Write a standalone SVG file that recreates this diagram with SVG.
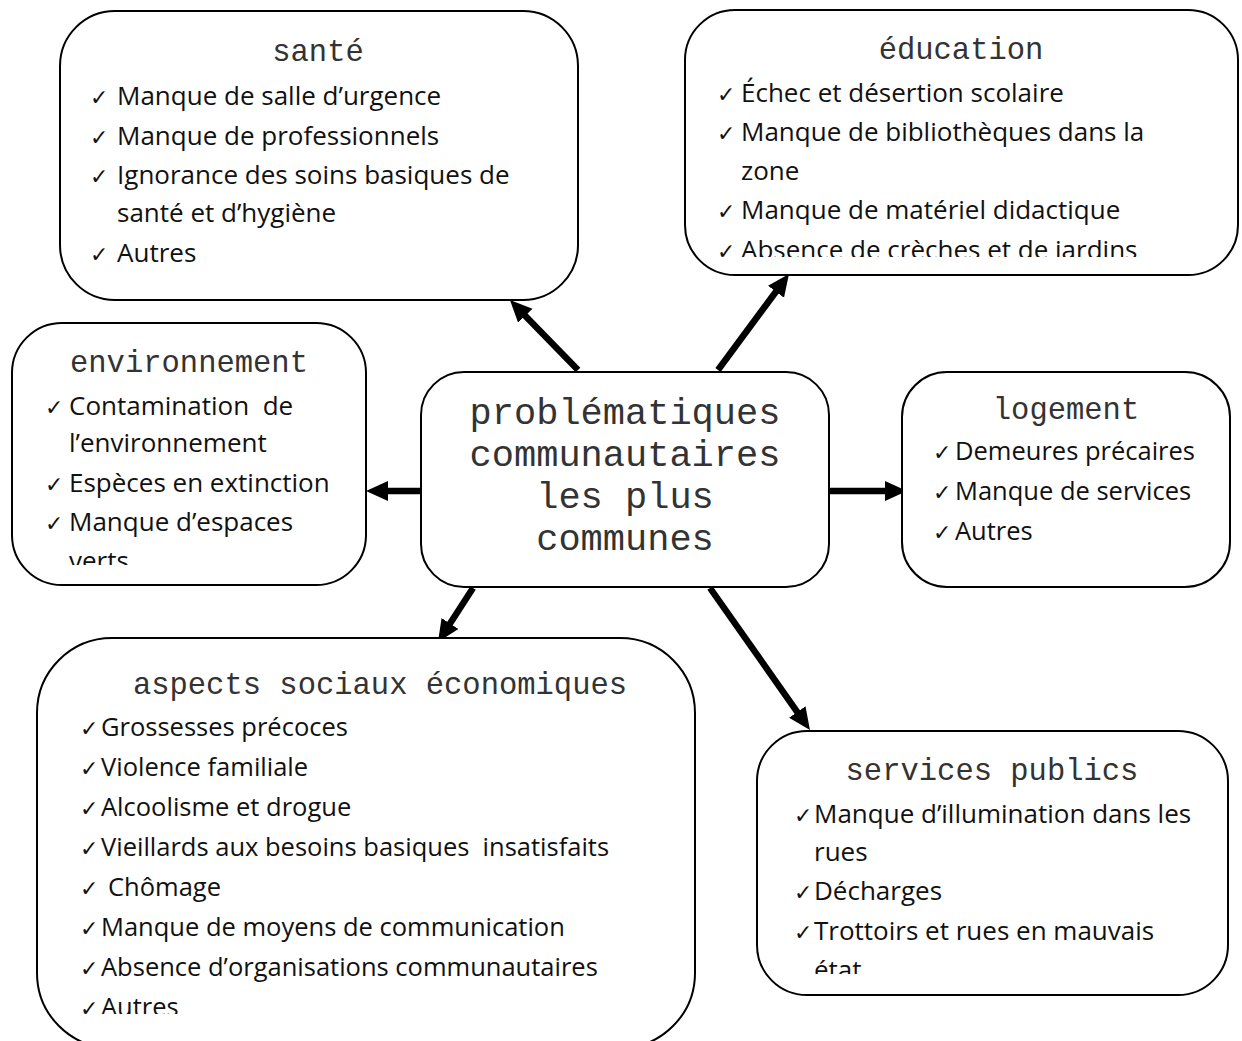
<svg xmlns="http://www.w3.org/2000/svg" width="1242" height="1041" viewBox="0 0 1242 1041">
<style>
.box{fill:#fff;stroke:#000;stroke-width:2}
.ttl{font-family:"Liberation Mono","Courier New",monospace;font-size:30.5px;fill:#333;text-anchor:middle}
.ctr{font-family:"Liberation Mono","Courier New",monospace;font-size:37px;fill:#333;text-anchor:middle}
.it{font-family:"Open Sans","Noto Sans",sans-serif;font-size:26px;fill:#111;white-space:pre}
.sm{font-size:25.5px}
.ck{font-family:"DejaVu Sans",sans-serif;font-size:22px;fill:#111}
.con{stroke:#000;stroke-width:6.5;fill:none;marker-end:url(#ah)}
</style>
<defs>
<marker id="ah" markerUnits="userSpaceOnUse" markerWidth="24" markerHeight="22" refX="4" refY="10" orient="auto" viewBox="0 0 24 22">
<path d="M0,0 L22,10 L0,20 z" fill="#000"/>
</marker>
<clipPath id="cEdu"><rect x="685" y="10" width="553" height="247"/></clipPath>
<clipPath id="cEnv"><rect x="12" y="323" width="354" height="242"/></clipPath>
<clipPath id="cAsp"><rect x="37" y="638" width="658" height="376"/></clipPath>
<clipPath id="cSer"><rect x="757" y="731" width="471" height="243"/></clipPath>
</defs>

<g id="connectors">
<line class="con" x1="578" y1="370" x2="522.5" y2="312.9"/>
<line class="con" x1="718" y1="370" x2="778.3" y2="288.5"/>
<line class="con" x1="421" y1="491" x2="384" y2="491"/>
<line class="con" x1="829" y1="491" x2="889" y2="491"/>
<line class="con" x1="473" y1="588" x2="447.8" y2="626.9"/>
<line class="con" x1="710" y1="588" x2="799.6" y2="715.3"/>
</g>

<g id="sante">
<rect class="box" x="60" y="11" width="518" height="289" rx="55"/>
<text class="ttl" x="318" y="61">santé</text>
<text class="ck" x="90" y="105">✓</text><text class="it" x="117" y="105">Manque de salle d’urgence</text>
<text class="ck" x="90" y="145">✓</text><text class="it" x="117" y="145">Manque de professionnels</text>
<text class="ck" x="90" y="184">✓</text><text class="it" x="117" y="184">Ignorance des soins basiques de</text>
<text class="it" x="117" y="222">santé et d’hygiène</text>
<text class="ck" x="90" y="262">✓</text><text class="it" x="117" y="262">Autres</text>
</g>

<g id="education">
<rect class="box" x="685" y="10" width="553" height="265" rx="50"/>
<text class="ttl" x="961" y="59">éducation</text>
<g clip-path="url(#cEdu)">
<text class="ck" x="717" y="102">✓</text><text class="it" x="741" y="102">Échec et désertion scolaire</text>
<text class="ck" x="717" y="141">✓</text><text class="it" x="741" y="141">Manque de bibliothèques dans la</text>
<text class="it" x="741" y="180">zone</text>
<text class="ck" x="717" y="219">✓</text><text class="it" x="741" y="219">Manque de matériel didactique</text>
<text class="ck" x="717" y="259">✓</text><text class="it" x="741" y="259">Absence de crèches et de jardins</text>
</g>
</g>

<g id="environnement">
<rect class="box" x="12" y="323" width="354" height="262" rx="50"/>
<text class="ttl" x="189" y="372">environnement</text>
<g clip-path="url(#cEnv)">
<text class="ck" x="45" y="415">✓</text><text class="it" x="69" y="415">Contamination  de</text>
<text class="it" x="69" y="452">l’environnement</text>
<text class="ck" x="45" y="492">✓</text><text class="it" x="69" y="492">Espèces en extinction</text>
<text class="ck" x="45" y="531">✓</text><text class="it" x="69" y="531">Manque d’espaces</text>
<text class="it" x="69" y="570">verts</text>
</g>
</g>

<g id="centre">
<rect class="box" x="421" y="372" width="408" height="215" rx="43"/>
<text class="ctr" x="625" y="424">problématiques</text>
<text class="ctr" x="625" y="466">communautaires</text>
<text class="ctr" x="625" y="508">les plus</text>
<text class="ctr" x="625" y="550">communes</text>
</g>

<g id="logement">
<rect class="box" x="902" y="372" width="328" height="215" rx="45"/>
<text class="ttl" x="1066" y="419">logement</text>
<text class="ck" x="933" y="460">✓</text><text class="it sm" x="955" y="460">Demeures précaires</text>
<text class="ck" x="933" y="500">✓</text><text class="it sm" x="955" y="500">Manque de services</text>
<text class="ck" x="933" y="540">✓</text><text class="it sm" x="955" y="540">Autres</text>
</g>

<g id="aspects">
<rect class="box" x="37" y="638" width="658" height="410" rx="75"/>
<text class="ttl" x="380" y="694">aspects sociaux économiques</text>
<g clip-path="url(#cAsp)">
<text class="ck" x="80" y="736">✓</text><text class="it sm" x="101" y="736">Grossesses précoces</text>
<text class="ck" x="80" y="776">✓</text><text class="it sm" x="101" y="776">Violence familiale</text>
<text class="ck" x="80" y="816">✓</text><text class="it sm" x="101" y="816">Alcoolisme et drogue</text>
<text class="ck" x="80" y="856">✓</text><text class="it sm" x="101" y="856">Vieillards aux besoins basiques  insatisfaits</text>
<text class="ck" x="80" y="896">✓</text><text class="it sm" x="108" y="896">Chômage</text>
<text class="ck" x="80" y="936">✓</text><text class="it sm" x="101" y="936">Manque de moyens de communication</text>
<text class="ck" x="80" y="976">✓</text><text class="it sm" x="101" y="976">Absence d’organisations communautaires</text>
<text class="ck" x="80" y="1016">✓</text><text class="it sm" x="101" y="1016">Autres</text>
</g>
</g>

<g id="services-publics">
<rect class="box" x="757" y="731" width="471" height="264" rx="50"/>
<text class="ttl" x="992" y="780">services publics</text>
<g clip-path="url(#cSer)">
<text class="ck" x="794" y="823">✓</text><text class="it" x="814" y="823">Manque d’illumination dans les</text>
<text class="it" x="814" y="861">rues</text>
<text class="ck" x="794" y="900">✓</text><text class="it" x="814" y="900">Décharges</text>
<text class="ck" x="794" y="940">✓</text><text class="it" x="814" y="940">Trottoirs et rues en mauvais</text>
<text class="it" x="814" y="979">état</text>
</g>
</g>
</svg>
